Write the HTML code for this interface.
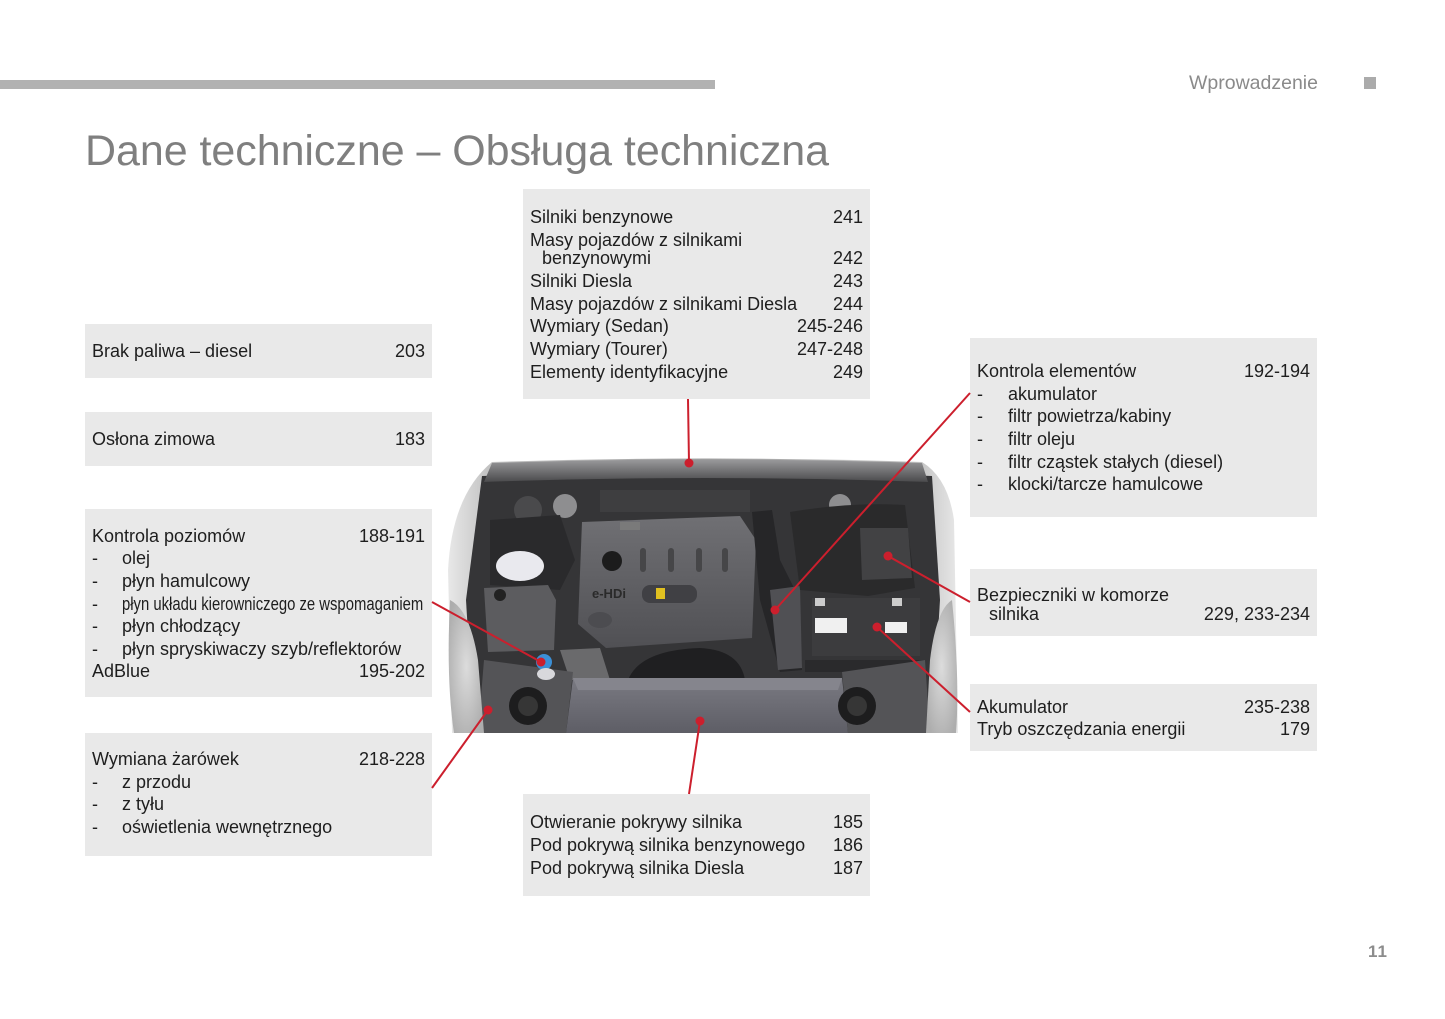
<!DOCTYPE html>
<html>
<head>
<meta charset="utf-8">
<style>
  html,body{margin:0;padding:0;background:#fff;}
  body{width:1445px;height:1019px;position:relative;overflow:hidden;font-family:"Liberation Sans",Arial,sans-serif;color:#1e1e1e;}
  .bar{position:absolute;left:0;top:80px;width:715px;height:9px;background:#b2b2b2;}
  .hdr{position:absolute;left:1189px;top:72px;font-size:19.5px;color:#8a8a8a;line-height:22px;}
  .sq{position:absolute;left:1364px;top:77px;width:12px;height:12px;background:#ababab;}
  .title{position:absolute;left:85px;top:125px;font-size:43px;color:#7f7f7f;line-height:52px;white-space:nowrap;letter-spacing:-0.05px;}
  .pn{position:absolute;left:1368px;top:942px;font-size:17px;font-weight:bold;color:#8c8c8c;letter-spacing:1px;}
  .box{position:absolute;background:#e9e9e9;}
  .l{position:absolute;height:22px;line-height:22px;font-size:18px;white-space:nowrap;}
  .l .r{position:absolute;right:0;top:0;}
  .d{position:absolute;left:0;top:0;}
  .i{position:absolute;top:0;}
  svg{position:absolute;left:0;top:0;}
</style>
</head>
<body>
<div class="bar"></div>
<div class="hdr">Wprowadzenie</div>
<div class="sq"></div>
<div class="title">Dane techniczne – Obsługa techniczna</div>

<!-- Engine photo approximation -->
<svg width="1445" height="1019" viewBox="0 0 1445 1019">
  <defs>
    <linearGradient id="body" x1="0" y1="0" x2="1" y2="0">
      <stop offset="0" stop-color="#e8e8e8"/>
      <stop offset="0.08" stop-color="#c2c2c2"/>
      <stop offset="0.5" stop-color="#a0a0a0"/>
      <stop offset="0.92" stop-color="#c2c2c2"/>
      <stop offset="1" stop-color="#e8e8e8"/>
    </linearGradient>
    <linearGradient id="cover" x1="0" y1="0" x2="0" y2="1">
      <stop offset="0" stop-color="#707074"/>
      <stop offset="1" stop-color="#505054"/>
    </linearGradient>
    <linearGradient id="panel" x1="0" y1="0" x2="0" y2="1">
      <stop offset="0" stop-color="#7a7a82"/>
      <stop offset="1" stop-color="#5e5e66"/>
    </linearGradient>
    <linearGradient id="seal" x1="0" y1="0" x2="0" y2="1">
      <stop offset="0" stop-color="#9a9a9c"/>
      <stop offset="1" stop-color="#4a4a4c"/>
    </linearGradient>
    <radialGradient id="hl" cx="0.5" cy="0.5" r="0.6">
      <stop offset="0" stop-color="#dcdcdc"/>
      <stop offset="1" stop-color="#adadad"/>
    </radialGradient>
  </defs>
  <!-- outer body -->
  <path d="M492,462 Q705,455 922,462 Q948,478 954,520 L958,733 L452,733 L448,570 Q452,495 492,462 Z" fill="url(#body)"/>
  <!-- engine bay -->
  <path d="M482,476 Q705,468 932,476 L940,600 L932,733 L474,733 L466,600 Z" fill="#353537"/>
  <!-- hood seal band -->
  <path d="M492,463 Q705,456 922,463 L928,482 Q705,474 484,482 Z" fill="url(#seal)"/>
  <!-- upper left components -->
  <circle cx="565" cy="506" r="12" fill="#8e8e90"/>
  <circle cx="528" cy="510" r="14" fill="#4a4a4c"/>
  <circle cx="840" cy="505" r="11" fill="#8e8e90"/>
  <rect x="600" y="490" width="150" height="22" fill="#3e3e40"/>
  <path d="M490,520 L560,515 L575,560 L560,590 L490,585 Z" fill="#2a2a2c"/>
  <!-- coolant reservoir -->
  <ellipse cx="520" cy="566" rx="24" ry="15" fill="#e9e9ee"/>
  <!-- left box -->
  <path d="M484,588 L548,585 L556,600 L554,650 L488,652 Z" fill="#5c5c5f"/>
  <circle cx="500" cy="595" r="6" fill="#222"/>
  <!-- engine cover -->
  <path d="M582,522 L740,516 L756,540 L752,638 L606,648 L578,624 Z" fill="url(#cover)"/>
  <rect x="620" y="522" width="20" height="8" fill="#7a7a7a"/>
  <rect x="640" y="548" width="6" height="24" rx="3" fill="#464648"/>
  <rect x="668" y="548" width="6" height="24" rx="3" fill="#464648"/>
  <rect x="696" y="548" width="6" height="24" rx="3" fill="#464648"/>
  <rect x="722" y="548" width="6" height="24" rx="3" fill="#464648"/>
  <circle cx="612" cy="561" r="10" fill="#1c1c1c"/>
  <rect x="642" y="585" width="55" height="18" rx="8" fill="#404044"/>
  <text x="592" y="598" font-family="Liberation Sans, sans-serif" font-size="13" font-weight="bold" fill="#2a2a2a">e-HDi</text>
  <rect x="656" y="588" width="9" height="11" fill="#e0c020"/>
  <ellipse cx="600" cy="620" rx="12" ry="8" fill="#4c4c50"/>
  <!-- turbo/intake below cover -->
  <path d="M628,680 Q640,650 700,648 Q740,650 745,680 Z" fill="#1f1f21"/>
  <path d="M560,650 L600,648 L610,680 L570,680 Z" fill="#6a6a6c"/>
  <!-- intake pipe -->
  <path d="M752,512 L772,510 L780,560 L800,600 L802,670 L780,672 L760,600 Z" fill="#262628"/>
  <path d="M770,590 L800,586 L802,668 L778,670 Z" fill="#505054"/>
  <!-- air box right -->
  <path d="M790,512 Q850,502 905,505 L915,588 L868,596 L800,590 Z" fill="#2a2a2b"/>
  <path d="M860,528 L908,528 L912,578 L862,580 Z" fill="#424244"/>
  <!-- battery -->
  <rect x="812" y="598" width="108" height="58" fill="#3c3c3e"/>
  <rect x="815" y="618" width="32" height="15" fill="#f0f0f0"/>
  <rect x="885" y="622" width="22" height="11" fill="#f0f0f0"/>
  <rect x="815" y="598" width="10" height="8" fill="#ccc"/>
  <rect x="892" y="598" width="10" height="8" fill="#ccc"/>
  <path d="M805,660 L925,660 L925,672 L805,672 Z" fill="#2a2a2c"/>
  <!-- front panel -->
  <path d="M573,678 L842,678 L848,733 L566,733 Z" fill="url(#panel)"/>
  <path d="M573,678 L842,678 L838,690 L578,690 Z" fill="#85858d"/>
  <!-- lower side areas -->
  <path d="M484,660 L573,672 L566,733 L478,733 Z" fill="#545457"/>
  <path d="M842,672 L925,660 L930,733 L848,733 Z" fill="#545457"/>
  <circle cx="528" cy="706" r="19" fill="#1d1d1e"/>
  <circle cx="528" cy="706" r="10" fill="#363636"/>
  <circle cx="857" cy="706" r="19" fill="#1d1d1e"/>
  <circle cx="857" cy="706" r="10" fill="#363636"/>
  <!-- headlights -->
  <path d="M450,600 Q470,610 478,660 L484,733 L454,733 Q446,680 450,600 Z" fill="url(#hl)"/>
  <path d="M952,600 Q936,610 930,660 L926,733 L956,733 Q960,680 952,600 Z" fill="url(#hl)"/>
  <!-- blue cap -->
  <circle cx="544" cy="662" r="8" fill="#3b8fd6"/>
  <ellipse cx="546" cy="674" rx="9" ry="6" fill="#d8d8dc"/>
</svg>

<!-- Box A -->
<div class="box" style="left:85px;top:324px;width:347px;height:54px;"></div>
<div class="l" style="left:92px;width:333px;top:340px;">Brak paliwa – diesel<span class="r">203</span></div>

<!-- Box B -->
<div class="box" style="left:85px;top:412px;width:347px;height:54px;"></div>
<div class="l" style="left:92px;width:333px;top:428px;">Osłona zimowa<span class="r">183</span></div>

<!-- Box C -->
<div class="box" style="left:85px;top:509px;width:347px;height:188px;"></div>
<div class="l" style="left:92px;width:333px;top:525px;">Kontrola poziomów<span class="r">188-191</span></div>
<div class="l" style="left:92px;width:333px;top:547px;"><span class="d">-</span><span class="i" style="left:30px">olej</span></div>
<div class="l" style="left:92px;width:333px;top:570px;"><span class="d">-</span><span class="i" style="left:30px">płyn hamulcowy</span></div>
<div class="l" style="left:92px;width:333px;top:593px;"><span class="d">-</span><span class="i" style="left:30px;transform:scaleX(0.825);transform-origin:0 0;">płyn układu kierowniczego ze wspomaganiem</span></div>
<div class="l" style="left:92px;width:333px;top:615px;"><span class="d">-</span><span class="i" style="left:30px">płyn chłodzący</span></div>
<div class="l" style="left:92px;width:333px;top:638px;"><span class="d">-</span><span class="i" style="left:30px">płyn spryskiwaczy szyb/reflektorów</span></div>
<div class="l" style="left:92px;width:333px;top:660px;">AdBlue<span class="r">195-202</span></div>

<!-- Box D -->
<div class="box" style="left:85px;top:733px;width:347px;height:123px;"></div>
<div class="l" style="left:92px;width:333px;top:748px;">Wymiana żarówek<span class="r">218-228</span></div>
<div class="l" style="left:92px;width:333px;top:771px;"><span class="d">-</span><span class="i" style="left:30px">z przodu</span></div>
<div class="l" style="left:92px;width:333px;top:793px;"><span class="d">-</span><span class="i" style="left:30px">z tyłu</span></div>
<div class="l" style="left:92px;width:333px;top:816px;"><span class="d">-</span><span class="i" style="left:30px">oświetlenia wewnętrznego</span></div>

<!-- Box E (top center) -->
<div class="box" style="left:523px;top:189px;width:347px;height:210px;"></div>
<div class="l" style="left:530px;width:333px;top:206px;">Silniki benzynowe<span class="r">241</span></div>
<div class="l" style="left:530px;width:333px;top:229px;">Masy pojazdów z silnikami</div>
<div class="l" style="left:530px;width:333px;top:247px;"><span class="i" style="left:12px">benzynowymi</span><span class="r">242</span></div>
<div class="l" style="left:530px;width:333px;top:270px;">Silniki Diesla<span class="r">243</span></div>
<div class="l" style="left:530px;width:333px;top:293px;">Masy pojazdów z silnikami Diesla<span class="r">244</span></div>
<div class="l" style="left:530px;width:333px;top:315px;">Wymiary (Sedan)<span class="r">245-246</span></div>
<div class="l" style="left:530px;width:333px;top:338px;">Wymiary (Tourer)<span class="r">247-248</span></div>
<div class="l" style="left:530px;width:333px;top:361px;">Elementy identyfikacyjne<span class="r">249</span></div>

<!-- Box F (bottom center) -->
<div class="box" style="left:523px;top:794px;width:347px;height:102px;"></div>
<div class="l" style="left:530px;width:333px;top:811px;">Otwieranie pokrywy silnika<span class="r">185</span></div>
<div class="l" style="left:530px;width:333px;top:834px;">Pod pokrywą silnika benzynowego<span class="r">186</span></div>
<div class="l" style="left:530px;width:333px;top:857px;">Pod pokrywą silnika Diesla<span class="r">187</span></div>

<!-- Box G -->
<div class="box" style="left:970px;top:338px;width:347px;height:179px;"></div>
<div class="l" style="left:977px;width:333px;top:360px;">Kontrola elementów<span class="r">192-194</span></div>
<div class="l" style="left:977px;width:333px;top:383px;"><span class="d">-</span><span class="i" style="left:31px">akumulator</span></div>
<div class="l" style="left:977px;width:333px;top:405px;"><span class="d">-</span><span class="i" style="left:31px">filtr powietrza/kabiny</span></div>
<div class="l" style="left:977px;width:333px;top:428px;"><span class="d">-</span><span class="i" style="left:31px">filtr oleju</span></div>
<div class="l" style="left:977px;width:333px;top:451px;"><span class="d">-</span><span class="i" style="left:31px">filtr cząstek stałych (diesel)</span></div>
<div class="l" style="left:977px;width:333px;top:473px;"><span class="d">-</span><span class="i" style="left:31px">klocki/tarcze hamulcowe</span></div>

<!-- Box H -->
<div class="box" style="left:970px;top:569px;width:347px;height:67px;"></div>
<div class="l" style="left:977px;width:333px;top:584px;">Bezpieczniki w komorze</div>
<div class="l" style="left:977px;width:333px;top:603px;"><span class="i" style="left:12px">silnika</span><span class="r">229, 233-234</span></div>

<!-- Box I -->
<div class="box" style="left:970px;top:684px;width:347px;height:67px;"></div>
<div class="l" style="left:977px;width:333px;top:696px;">Akumulator<span class="r">235-238</span></div>
<div class="l" style="left:977px;width:333px;top:718px;">Tryb oszczędzania energii<span class="r">179</span></div>

<!-- Red connector lines -->
<svg width="1445" height="1019" viewBox="0 0 1445 1019">
  <g stroke="#cc1f2d" stroke-width="2" fill="none">
    <line x1="688" y1="399" x2="689" y2="463"/>
    <line x1="432" y1="602" x2="541" y2="662"/>
    <line x1="432" y1="788" x2="488" y2="710"/>
    <line x1="689" y1="794" x2="700" y2="721"/>
    <line x1="970" y1="393" x2="775" y2="610"/>
    <line x1="970" y1="602" x2="888" y2="556"/>
    <line x1="970" y1="712" x2="877" y2="627"/>
  </g>
  <g fill="#cc1f2d">
    <circle cx="689" cy="463" r="4.5"/>
    <circle cx="541" cy="662" r="4.5"/>
    <circle cx="488" cy="710" r="4.5"/>
    <circle cx="700" cy="721" r="4.5"/>
    <circle cx="775" cy="610" r="4.5"/>
    <circle cx="888" cy="556" r="4.5"/>
    <circle cx="877" cy="627" r="4.5"/>
  </g>
</svg>

<div class="pn">11</div>
</body>
</html>
